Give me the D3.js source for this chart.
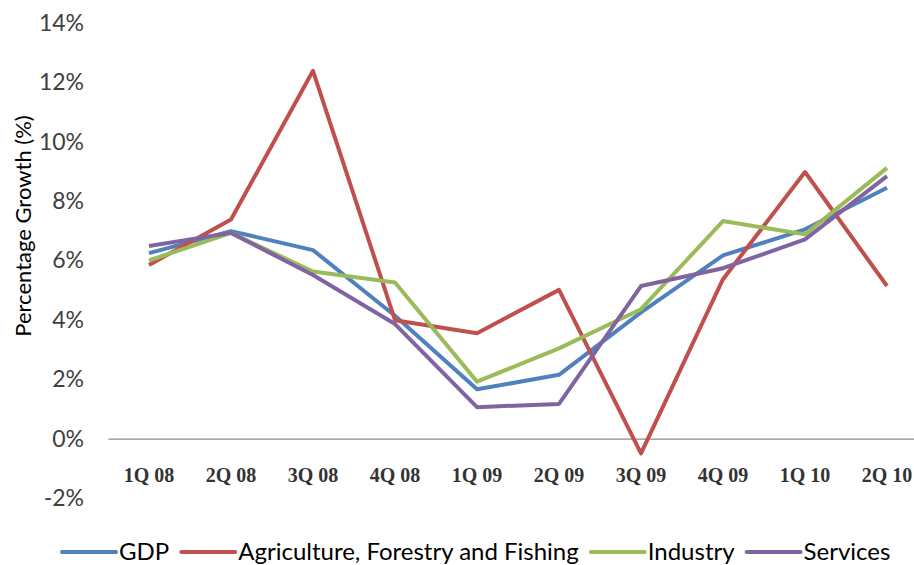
<!DOCTYPE html>
<html>
<head>
<meta charset="utf-8">
<script src="https://cdn.jsdelivr.net/npm/d3@7"></script>
<style>
  html, body { margin: 0; padding: 0; background: #fff; }
  svg { display: block; }
</style>
</head>
<body>
<svg id="chart" width="914" height="565"></svg>
<script>
// Quarterly growth rates (%) by sector
const quarters = ["1Q 08", "2Q 08", "3Q 08", "4Q 08", "1Q 09", "2Q 09", "3Q 09", "4Q 09", "1Q 10", "2Q 10"];
const gdp         = [6.25, 6.99, 6.35, 4.14, 1.66, 2.15, 4.25, 6.17, 7.05, 8.45];
const agriculture = [5.85, 7.38, 12.39, 3.99, 3.55, 5.01, -0.50, 5.37, 8.98, 5.14];
const industry    = [6.00, 6.93, 5.63, 5.26, 1.92, 3.04, 4.36, 7.33, 6.88, 9.12];
const services    = [6.49, 6.93, 5.51, 3.86, 1.06, 1.17, 5.14, 5.74, 6.71, 8.84];
const seriesNames = ["GDP", "Agriculture, Forestry and Fishing", "Industry", "Services"];
const seriesColors = ["#4F81BD", "#C0504D", "#9BBB59", "#8064A2"];
const yTicks = [-2, 0, 2, 4, 6, 8, 10, 12, 14];

const series = [gdp, agriculture, industry, services].map((values, i) => ({
  name: seriesNames[i], color: seriesColors[i], values
}));

const svg = d3.select("#chart");
const plotLeft = 108, plotRight = 928, plotTop = 23, plotBottom = 498;
const sansFont = "Lato, 'Open Sans', sans-serif";

const x = d3.scaleBand().domain(quarters).range([plotLeft, plotRight]);
const y = d3.scaleLinear().domain([-2, 14]).range([plotBottom, plotTop]);

// y tick labels (no axis line)
const yAxis = d3.axisLeft(y).tickValues(yTicks).tickFormat(d => d + "%").tickSize(0).tickPadding(0);
const gy = svg.append("g").attr("transform", `translate(${plotLeft - 24},0)`).call(yAxis);
gy.select(".domain").remove();
gy.selectAll("text")
  .attr("font-family", sansFont)
  .attr("font-size", 23)
  .attr("fill", "#404040");

// horizontal zero line with category labels below
const xAxis = d3.axisBottom(x).tickSize(0).tickPadding(0);
const gx = svg.append("g").attr("transform", `translate(0,${y(0)})`).call(xAxis);
gx.select(".domain").attr("stroke", "#8c8c8c").attr("stroke-width", 1.2);
gx.selectAll("text")
  .attr("dy", 0)
  .attr("y", 43)
  .attr("font-family", "'Liberation Serif', serif")
  .attr("font-weight", "bold")
  .attr("font-size", 20)
  .attr("fill", "#333");

// y axis title
svg.append("text")
  .attr("transform", "translate(31,226) rotate(-90)")
  .attr("text-anchor", "middle")
  .attr("font-family", sansFont)
  .attr("font-size", 22)
  .attr("fill", "#000")
  .text("Percentage Growth (%)");

// series lines
const line = d3.line()
  .x((d, i) => x(quarters[i]) + x.bandwidth() / 2)
  .y(d => y(d));

svg.append("g").selectAll("path")
  .data(series)
  .join("path")
  .attr("d", d => line(d.values))
  .attr("fill", "none")
  .attr("stroke", d => d.color)
  .attr("stroke-width", 4)
  .attr("stroke-linejoin", "round");

// legend, laid out left to right
const legend = svg.append("g").attr("transform", "translate(62,560)");
let cx = 0;
series.forEach(s => {
  legend.append("line")
    .attr("x1", cx).attr("x2", cx + 54)
    .attr("y1", -8).attr("y2", -8)
    .attr("stroke", s.color).attr("stroke-width", 4).attr("stroke-linecap", "round");
  const t = legend.append("text")
    .attr("x", cx + 57)
    .attr("font-family", sansFont)
    .attr("font-size", 24)
    .attr("fill", "#000")
    .text(s.name);
  cx += 57 + t.node().getComputedTextLength() + 12;
});
</script>
</body>
</html>
